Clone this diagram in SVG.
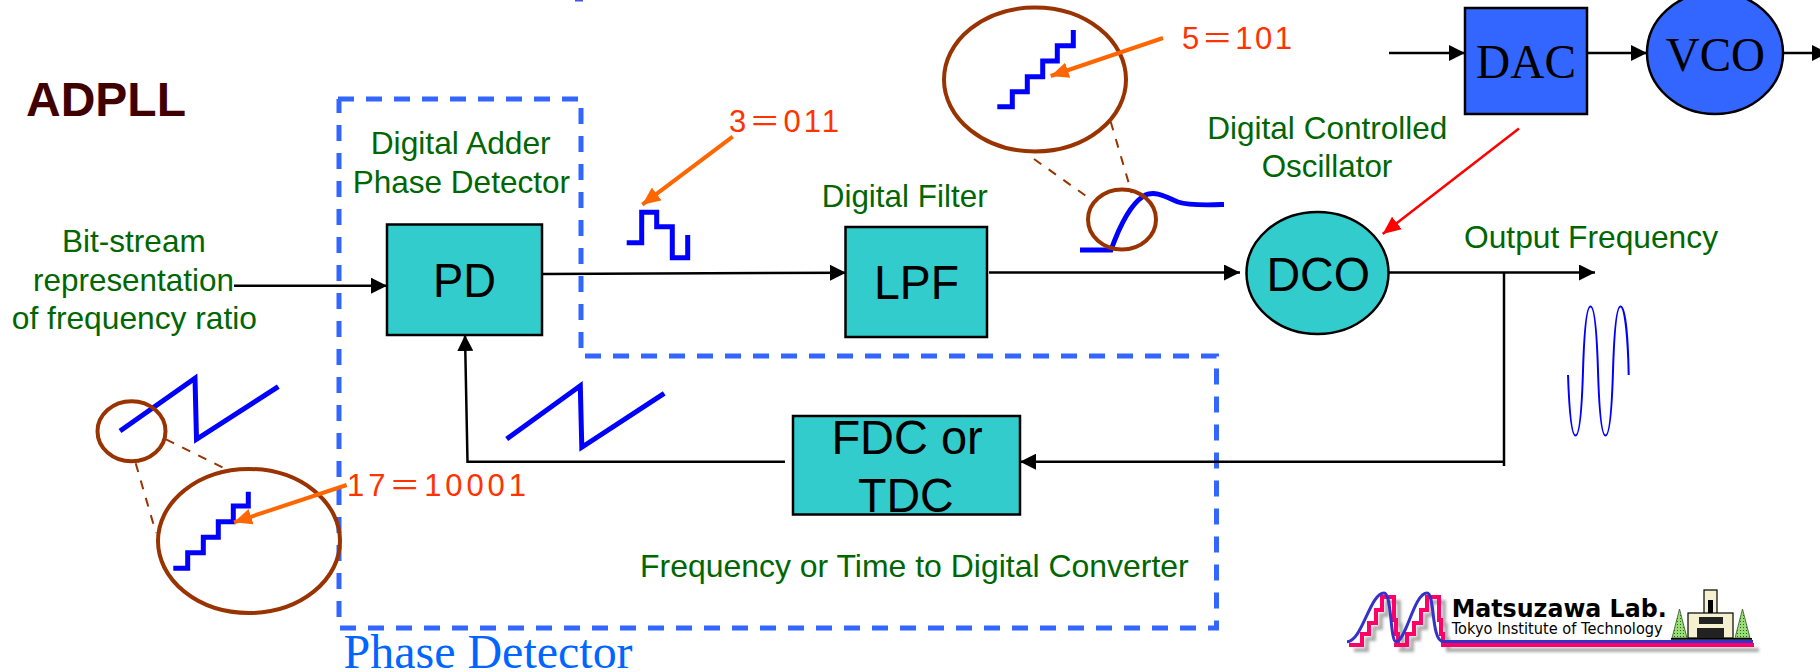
<svg xmlns="http://www.w3.org/2000/svg" width="1820" height="672" viewBox="0 0 1820 672">
<style>
text{font-family:"Liberation Sans",Arial,sans-serif}
.g{font-size:31.5px;fill:#006600}
.b{font-size:48px;fill:#000}
.s{font-family:"Liberation Serif","Times New Roman",serif;font-size:48px;fill:#000}
.o{font-family:"Liberation Sans","Noto Sans CJK JP",sans-serif;font-size:31px;fill:#ff3300}
.pd{font-family:"Liberation Serif","Times New Roman",serif;font-size:48px;fill:#0066ff}
.l1{font-family:"DejaVu Sans",sans-serif;font-size:24px;font-weight:bold;fill:#000}
.l2{font-family:"DejaVu Sans",sans-serif;font-size:15px;fill:#000}
.node{fill:#33cccc;stroke:#000;stroke-width:2.5}
.blue{fill:#3366ff;stroke:#000;stroke-width:2.5}
.c{fill:none;stroke:#000;stroke-width:2.5}
.wave{fill:none;stroke:#0000ff;stroke-width:5}
.ring{fill:none;stroke:#993300;stroke-width:4}
.lead{fill:none;stroke:#993300;stroke-width:2;stroke-dasharray:9 9}
.call{fill:none;stroke:#ff6600;stroke-width:4}
</style>
<defs>
<marker id="ah" markerUnits="userSpaceOnUse" markerWidth="16" markerHeight="16" refX="16" refY="8" orient="auto"><path d="M0 0L16 8L0 16z" fill="#000"/></marker>
<marker id="oh" markerUnits="userSpaceOnUse" markerWidth="19" markerHeight="16" refX="18" refY="8" orient="auto"><path d="M0 0L18 8L0 16z" fill="#ff6600"/></marker>
<marker id="rh" markerUnits="userSpaceOnUse" markerWidth="19" markerHeight="16" refX="18" refY="8" orient="auto"><path d="M0 0L18 8L0 16z" fill="#ff0000"/></marker>
<filter id="blur" x="-5%" y="-20%" width="110%" height="140%"><feGaussianBlur stdDeviation="1.6"/></filter>
<pattern id="leaf" width="3" height="3" patternUnits="userSpaceOnUse"><rect width="3" height="3" fill="#99dd77"/><rect width="1" height="1" fill="#2f5f2a"/></pattern>
</defs>

<path d="M338 99H581V356H1216.500V628H339V99" fill="none" stroke="#3366ff" stroke-width="5" stroke-dasharray="16 12"/>
<rect x="575" y="0" width="8" height="1.500" fill="#4455ee"/>

<g id="connectors">
<path class="c" d="M234 285.700H387" marker-end="url(#ah)"/>
<path class="c" d="M542 274L846 272.700" marker-end="url(#ah)"/>
<path class="c" d="M989 272.500H1240" marker-end="url(#ah)"/>
<path class="c" d="M1389 272.500H1595" marker-end="url(#ah)"/>
<path class="c" d="M1504 272.500V466"/>
<path class="c" d="M1504 461.700H1020" marker-end="url(#ah)"/>
<path class="c" d="M785 461.700H467.500L465 335" marker-end="url(#ah)"/>
<path class="c" d="M1389 53H1465" marker-end="url(#ah)"/>
<path class="c" d="M1587 53H1647" marker-end="url(#ah)"/>
<path class="c" d="M1783 53H1828" marker-end="url(#ah)"/>
<path d="M1519 128.500L1382.700 234" fill="none" stroke="#ff0000" stroke-width="2.500" marker-end="url(#rh)"/>
</g>

<g id="node-pd"><rect class="node" x="387" y="224.500" width="155" height="110.500"/><text class="b" x="433" y="296.700" textLength="63" lengthAdjust="spacingAndGlyphs">PD</text></g>
<g id="node-lpf"><rect class="node" x="845.500" y="227" width="141.500" height="110"/><text class="b" x="874" y="299.300" textLength="85" lengthAdjust="spacingAndGlyphs">LPF</text></g>
<g id="node-dco"><ellipse class="node" cx="1317.500" cy="273" rx="71" ry="61"/><text class="b" x="1266.400" y="290.700" textLength="103.600" lengthAdjust="spacingAndGlyphs">DCO</text></g>
<g id="node-fdc"><rect class="node" x="793" y="416" width="227" height="98.500"/><text class="b" x="831.400" y="454" textLength="151.300" lengthAdjust="spacingAndGlyphs">FDC or</text><text class="b" x="858" y="512.300" textLength="95.600" lengthAdjust="spacingAndGlyphs">TDC</text></g>
<g id="node-dac"><rect class="blue" x="1465" y="8" width="122" height="106"/><text class="s" x="1476" y="78.300" textLength="100" lengthAdjust="spacingAndGlyphs">DAC</text></g>
<g id="node-vco"><ellipse class="blue" cx="1715" cy="53" rx="68" ry="61"/><text class="s" x="1665.700" y="70.700" textLength="99.300" lengthAdjust="spacingAndGlyphs">VCO</text></g>

<g id="waves">
<path class="wave" d="M120 431L195 378.300L196.500 439.300L278.300 386.700"/>
<path class="wave" d="M506.700 439L580.300 385.700L581.800 447.300L664.200 393.300"/>
<path class="wave" d="M173.300 568.300H187.700V552.700H203.300V537.300H218.300V521.700H233.300V506H248.300V491.700"/>
<path class="wave" d="M997.300 106.700H1012.300V91.700H1027.300V76.700H1042.700V61H1057.300V45.700H1073.300V30"/>
<path class="wave" d="M626.700 242.700H641.700V212.300H656.700V226.700H672.300V257.700H687.700V235"/>
<path class="wave" d="M1080 250H1111C1120 225 1130 205 1143 196.500C1155 189 1168 198 1178 202C1190 206 1210 205 1224 204.500"/>
<path fill="none" stroke="#0000ff" stroke-width="2" d="M1568 375C1569 404 1571 435.500 1575.500 435.500C1580 435.500 1582 404 1583 371C1584 338 1586 306.500 1590.500 306.500C1595 306.500 1597 338 1598 371C1599 404 1601 435.500 1605.500 435.500C1610 435.500 1612 404 1613 371C1614 338 1616 306.500 1620.500 306.500C1625 306.500 1628 338 1628.700 375"/>
</g>

<g id="zoom-rings">
<ellipse class="ring" cx="1035" cy="79.500" rx="91" ry="72"/>
<ellipse class="ring" cx="1122" cy="219.500" rx="34" ry="30"/>
<path class="lead" d="M1034 159L1086 196"/>
<path class="lead" d="M1110.700 121.700L1131.700 193"/>
<ellipse class="ring" cx="249" cy="541" rx="91" ry="72"/>
<ellipse class="ring" cx="131.500" cy="431.300" rx="34" ry="30"/>
<path class="lead" d="M166 439.300L223.300 467.700"/>
<path class="lead" d="M135.700 463.300L156 533"/>
</g>

<g id="callouts">
<path class="call" d="M1163 38L1050.700 76" marker-end="url(#oh)"/>
<path class="call" d="M732.700 136.700L642.300 204.700" marker-end="url(#oh)"/>
<path class="call" d="M346.700 485L234 522.300" marker-end="url(#oh)"/>
<text class="o" x="1182" y="48.700" textLength="110">5＝101</text>
<text class="o" x="729" y="131.700" textLength="110">3＝011</text>
<text class="o" x="347" y="496" textLength="179">17＝10001</text>
</g>

<g id="labels">
<text x="26" y="116" font-size="48" font-weight="bold" fill="#400000" textLength="160" lengthAdjust="spacingAndGlyphs">ADPLL</text>
<text class="g" x="370.700" y="154.300" textLength="180" lengthAdjust="spacingAndGlyphs">Digital Adder</text>
<text class="g" x="352.700" y="192.700" textLength="217.300" lengthAdjust="spacingAndGlyphs">Phase Detector</text>
<text class="g" x="62" y="252.300" textLength="143.700" lengthAdjust="spacingAndGlyphs">Bit-stream</text>
<text class="g" x="33" y="290.700" textLength="201" lengthAdjust="spacingAndGlyphs">representation</text>
<text class="g" x="11.800" y="329.300" textLength="245.200" lengthAdjust="spacingAndGlyphs">of frequency ratio</text>
<text class="g" x="821.700" y="207" textLength="166" lengthAdjust="spacingAndGlyphs">Digital Filter</text>
<text class="g" x="1207.300" y="139.200" textLength="240" lengthAdjust="spacingAndGlyphs">Digital Controlled</text>
<text class="g" x="1261.700" y="177.300" textLength="130.600" lengthAdjust="spacingAndGlyphs">Oscillator</text>
<text class="g" x="1464" y="248.300" textLength="254" lengthAdjust="spacingAndGlyphs">Output Frequency</text>
<text class="g" x="640" y="577.300" textLength="548.700" lengthAdjust="spacingAndGlyphs">Frequency or Time to Digital Converter</text>
<text class="pd" x="343.600" y="668" textLength="289" lengthAdjust="spacingAndGlyphs">Phase Detector</text>
</g>

<g id="logo">
<g filter="url(#blur)" opacity="0.55" transform="translate(5 5)" fill="none" stroke="#666" stroke-width="4">
<path d="M1349 645H1362V634H1369V623H1376V610H1382V597H1394V620H1396V634H1398V645"/>
<path d="M1394 645H1407V634H1414V623H1421V610H1427V597H1439V620H1441V634H1443V645H1754"/>
</g>
<g fill="none" stroke="#ff0066" stroke-width="4">
<path d="M1349 645H1362V634H1369V623H1376V610H1382V597H1394V620H1396V634H1398V645"/>
<path d="M1394 645H1407V634H1414V623H1421V610H1427V597H1439V620H1441V634H1443V645H1754"/>
</g>
<path d="M1347 641.700C1362 642 1370 593 1384 593C1392 593 1390 641.700 1396 641.700C1406 641.700 1414 593 1427 593C1435 593 1431 641 1443 641.500H1753" fill="none" stroke="#3333cc" stroke-width="3"/>
<text class="l1" x="1451.700" y="616.700" textLength="215" lengthAdjust="spacingAndGlyphs">Matsuzawa Lab.</text>
<text class="l2" x="1451.700" y="634.300" textLength="211" lengthAdjust="spacingAndGlyphs">Tokyo Institute of Technology</text>
<path d="M1679.500 609L1672 638H1687zM1742.500 609L1735 638H1750z" fill="url(#leaf)" stroke="#335522" stroke-width="0.800"/>
<rect x="1704" y="590" width="13" height="24" fill="#f5f0d0" stroke="#000" stroke-width="1.200"/>
<rect x="1708" y="600" width="5" height="13" fill="#000"/>
<rect x="1688" y="613" width="45" height="25" fill="#f5f0d0" stroke="#000" stroke-width="1.200"/>
<rect x="1699" y="617" width="24" height="7" fill="#222"/>
<rect x="1697" y="628" width="27" height="10" fill="#222"/>
<rect x="1671" y="638" width="81" height="1.800" fill="#000"/>
</g>
</svg>
